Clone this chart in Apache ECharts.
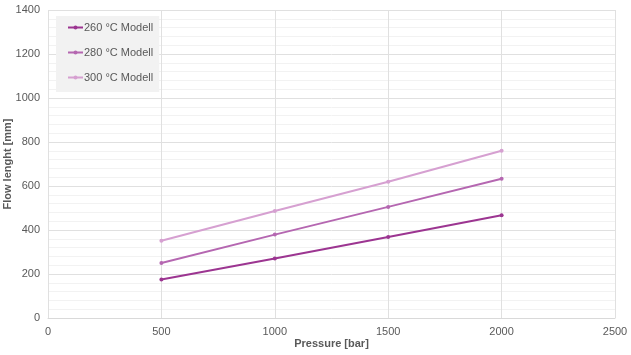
<!DOCTYPE html>
<html>
<head>
<meta charset="utf-8">
<script src="https://cdn.jsdelivr.net/npm/echarts@6/dist/echarts.min.js"></script>
<style>
  html, body { margin: 0; padding: 0; background: #fff; }
  #chart { width: 631px; height: 355px; }
</style>
</head>
<body>
<div id="chart"></div>
<script>
// pressure [bar] vs flow length [mm]
const pressure = [500, 1000, 1500, 2000];
const flow260 = [175, 270, 368, 467];
const flow280 = [250, 379, 505, 633];
const flow300 = [351, 486, 619, 760];
const seriesNames = ['260 °C Modell', '280 °C Modell', '300 °C Modell'];
const seriesColors = ['#9c3591', '#b567b1', '#d6a0d1'];

const chart = echarts.init(document.getElementById('chart'));

function pairs(ys) {
    return pressure.map((x, i) => [x, ys[i]]);
}

function lineSeries(name, color, ys) {
    return {
        name: name,
        type: 'line',
        data: pairs(ys),
        symbol: 'circle',
        symbolSize: 4,
        lineStyle: { color: color, width: 2 },
        itemStyle: { color: color },
        z: 3
    };
}

const fontFam = 'Liberation Sans, Arial, sans-serif';
const labelStyle = { color: '#595959', fontSize: 11, fontFamily: fontFam };
const plain = v => String(v);

chart.setOption({
    animation: false,
    grid: { left: 48, right: 16, top: 10, bottom: 37, outerBoundsMode: 'none', containLabel: false },
    legend: {
        orient: 'vertical',
        left: 56,
        top: 16,
        padding: [6, 6, 9, 11],
        itemGap: 14,
        itemWidth: 15,
        itemHeight: 5,
        backgroundColor: '#f2f2f2',
        textStyle: Object.assign({ padding: [0, 0, 0, -4] }, labelStyle),
        data: seriesNames
    },
    xAxis: {
        type: 'value',
        min: 0,
        max: 2500,
        interval: 500,
        name: 'Pressure [bar]',
        nameLocation: 'middle',
        nameGap: 20,
        nameMoveOverlap: false,
        nameTextStyle: { color: '#595959', fontSize: 11, fontWeight: 'bold', fontFamily: fontFam },
        axisLine: { show: true, lineStyle: { color: '#d9d9d9' } },
        axisTick: { show: false },
        axisLabel: Object.assign({ margin: 8, formatter: plain }, labelStyle),
        splitLine: { show: true, lineStyle: { color: '#e0e0e0' } }
    },
    yAxis: {
        type: 'value',
        min: 0,
        max: 1400,
        interval: 200,
        name: 'Flow lenght [mm]',
        nameLocation: 'middle',
        nameGap: 35,
        nameMoveOverlap: false,
        nameTextStyle: { color: '#595959', fontSize: 11, fontWeight: 'bold', fontFamily: fontFam },
        axisLine: { show: false },
        axisTick: { show: false },
        axisLabel: Object.assign({ margin: 8, formatter: plain }, labelStyle),
        splitLine: { show: true, lineStyle: { color: '#e0e0e0' } },
        minorTick: { show: false, splitNumber: 5 },
        minorSplitLine: { show: true, lineStyle: { color: '#f2f2f2' } }
    },
    series: [
        lineSeries(seriesNames[0], seriesColors[0], flow260),
        lineSeries(seriesNames[1], seriesColors[1], flow280),
        lineSeries(seriesNames[2], seriesColors[2], flow300)
    ]
});
</script>
</body>
</html>
